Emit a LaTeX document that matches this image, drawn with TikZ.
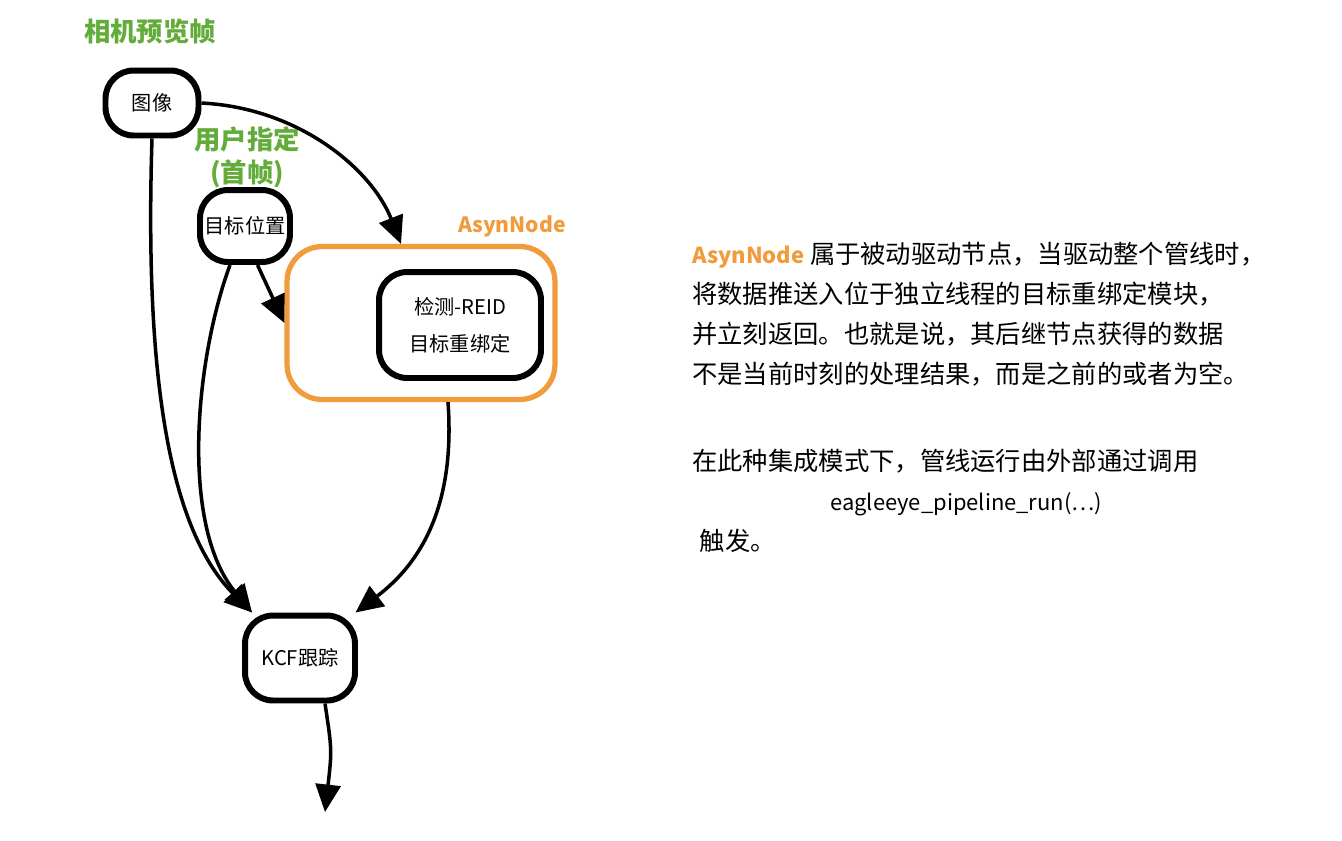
\documentclass[tikz,border=0pt]{standalone}
\usepackage{fontspec}
\setmainfont{Noto Sans CJK SC}
\usetikzlibrary{arrows.meta}
\definecolor{leafgreen}{RGB}{98,172,58}
\definecolor{asynorange}{RGB}{240,155,60}

\begin{document}
\begin{tikzpicture}[x=0.02cm,y=-0.02cm]
    \tikzstyle{stage}=[rectangle, draw, line width=3.4pt, rounded corners=16pt, align=center, inner sep=2pt, font=\fontsize{11.5}{21}\selectfont]
    \tikzstyle{tag}=[text=leafgreen, align=center, font=\fontsize{15}{19}\selectfont\bfseries]
    \tikzstyle{flow}=[line width=2pt, -{Triangle[length=0.55cm,width=0.5cm]}]
    \tikzstyle{remark}=[anchor=north west, inner sep=0pt, align=left, font=\fontsize{14.4}{22.8}\selectfont]

    \useasboundingbox (0,0) rectangle (1342,840);

    % left column
    \node[tag] (cam) at (150,32) {相机预览帧};
    \node[stage, minimum width=1.86cm, minimum height=1.3cm] (img) at (152,103) {图像};
    \node[tag] (user) at (247,157) {用户指定\\(首帧)};
    \node[stage, minimum width=1.8cm, minimum height=1.44cm] (tgt) at (245,226) {目标位置};

    % async block
    \node[draw=asynorange, line width=3pt, rounded corners=20pt, minimum width=5.36cm, minimum height=3.06cm] (asyn) at (421,323) {};
    \node[text=asynorange, font=\fontsize{12}{16}\selectfont\bfseries] (asynlabel) at (512,226) {AsynNode};
    \node[stage, minimum width=3.24cm, minimum height=2.12cm] (det) at (460,325) {检测-REID\\目标重绑定};

    \node[stage, minimum width=2.2cm, minimum height=1.7cm] (kcf) at (300,658) {KCF跟踪};
    \coordinate (out) at (325,812);

    \draw[flow] (img.east) .. controls (300,108) and (372,170) .. ([xshift=-0.4cm]asyn.north);
    \draw[flow] (img.south) .. controls (145,360) and (165,525) .. ([xshift=0.2cm]kcf.north west);
    \draw[flow] ([xshift=-0.3cm]tgt.south) .. controls (195,360) and (180,525) .. ([xshift=0.2cm]kcf.north west);
    \draw[flow] ([xshift=0.25cm]tgt.south) -- (asyn.west);
    \draw[flow] ([xshift=0.54cm]asyn.south) .. controls (455,500) and (425,560) .. ([xshift=-0.05cm]kcf.north east);
    \draw[flow] ([xshift=0.5cm]kcf.south) .. controls (332,750) .. (out);

    % explanation
    \node[remark] (desc) at (692,242) {\textcolor{asynorange}{\fontsize{12.5}{22.8}\selectfont\bfseries AsynNode} 属于被动驱动节点，当驱动整个管线时，\\
        将数据推送入位于独立线程的目标重绑定模块，\\
        并立刻返回。也就是说，其后继节点获得的数据\\
        不是当前时刻的处理结果，而是之前的或者为空。};
    \node[remark] (note) at (692,449) {在此种集成模式下，管线运行由外部通过调用\\
        \hspace*{2.76cm}{\fontsize{12.5}{22.8}\selectfont eagleeye\_pipeline\_run(…)}\\
        \hspace*{0.15cm}触发。};
\end{tikzpicture}
\end{document}
